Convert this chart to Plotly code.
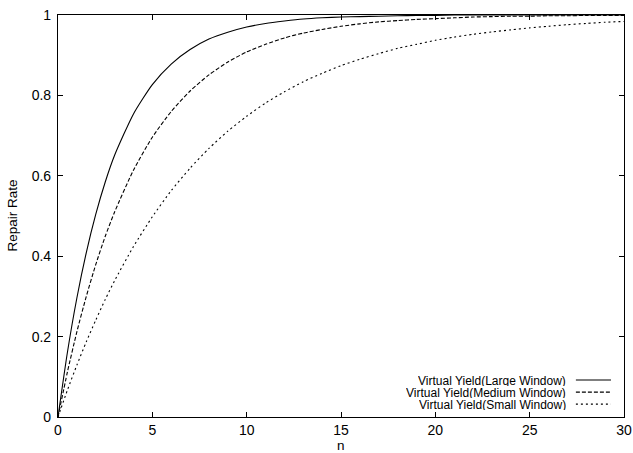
import plotly.graph_objects as go

n_values = [0, 0.5, 1, 1.5, 2, 2.5, 3, 4, 5, 6, 7, 8, 9, 10, 11, 12, 13, 14, 15,
            16, 17, 18, 19, 20, 21, 22, 23, 24, 25, 26, 27, 28, 29, 30]

large_window = [0, 0.161, 0.296, 0.409, 0.504, 0.584, 0.651, 0.754, 0.827, 0.878,
                0.914, 0.940, 0.957, 0.970, 0.979, 0.985, 0.990, 0.993, 0.995,
                0.996, 0.997, 0.998, 0.999, 0.999, 1.0, 1.0, 1.0, 1.0, 1.0, 1.0,
                1.0, 1.0, 1.0, 1.0]

medium_window = [0, 0.112, 0.212, 0.300, 0.379, 0.449, 0.510, 0.614, 0.696, 0.760,
                 0.811, 0.851, 0.883, 0.908, 0.927, 0.943, 0.955, 0.964, 0.972,
                 0.978, 0.983, 0.986, 0.989, 0.991, 0.993, 0.995, 0.996, 0.997,
                 0.997, 0.998, 0.998, 0.999, 0.999, 0.999]

small_window = [0, 0.067, 0.129, 0.187, 0.241, 0.292, 0.339, 0.424, 0.498, 0.563,
                0.619, 0.668, 0.711, 0.748, 0.781, 0.809, 0.834, 0.855, 0.874,
                0.890, 0.904, 0.917, 0.927, 0.937, 0.945, 0.952, 0.958, 0.963,
                0.968, 0.972, 0.976, 0.979, 0.982, 0.984]

series_names = ["Virtual Yield(Large Window)",
                "Virtual Yield(Medium Window)",
                "Virtual Yield(Small Window)"]
series_values = [large_window, medium_window, small_window]
dashes = ["solid", "4px,2px", "2px,3px"]

x_ticks = [0, 5, 10, 15, 20, 25, 30]
y_ticks = [0, 0.2, 0.4, 0.6, 0.8, 1]
y_tick_labels = ["0", "0.2", "0.4", "0.6", "0.8", "1"]

FONT = "Liberation Sans, Arial, Helvetica, sans-serif"

fig = go.Figure()
for name, vals, dash in zip(series_names, series_values, dashes):
    fig.add_trace(go.Scatter(
        x=n_values, y=vals, mode="lines", name=name,
        line=dict(color="black", width=1.1, dash=dash, shape="spline", smoothing=0.6),
        showlegend=False, hoverinfo="skip",
    ))

# Legend (gnuplot style: text right-aligned, sample on the right)
legend_y = [0.092, 0.062, 0.032]
for name, dash, yy in zip(series_names, dashes, legend_y):
    fig.add_annotation(x=0.899, y=yy, xref="paper", yref="paper", text=name,
                       showarrow=False, xanchor="right", yanchor="middle",
                       height=11, borderpad=0,
                       font=dict(family=FONT, size=12, color="black"))
    fig.add_shape(type="line", xref="paper", yref="paper",
                  x0=0.915, x1=0.977, y0=yy, y1=yy,
                  line=dict(color="black", width=1.1, dash=dash))

# Axis titles
fig.add_annotation(x=0.5, y=-0.071, xref="paper", yref="paper", text="n",
                   showarrow=False, xanchor="center", yanchor="middle",
                   font=dict(family=FONT, size=13.5, color="black"))
fig.add_annotation(x=-0.082, y=0.5, xref="paper", yref="paper", text="Repair Rate",
                   showarrow=False, xanchor="center", yanchor="middle", textangle=-90,
                   font=dict(family=FONT, size=13.5, color="black"))

axis_common = dict(
    showgrid=False, zeroline=False, showline=True, linecolor="black", linewidth=1.2,
    mirror="ticks", ticks="inside", ticklen=5, tickwidth=1.2, tickcolor="black",
    tickfont=dict(family=FONT, size=14, color="black"),
    ticklabeloverflow="allow", automargin=False,
)

fig.update_layout(
    width=633, height=453,
    margin=dict(l=58, r=9, t=15, b=36),
    paper_bgcolor="white", plot_bgcolor="white",
    hovermode=False,
    xaxis=dict(range=[0, 30], tickvals=x_ticks, **axis_common),
    yaxis=dict(range=[0, 1], tickvals=y_ticks, ticktext=y_tick_labels, **axis_common,
               ticklabelstandoff=3),
)

fig.write_html(
    "out.html",
    config={"displayModeBar": False},
    post_script="document.body.style.margin='0';"
                "document.documentElement.style.overflow='hidden';"
                "document.body.style.overflow='hidden';",
)
